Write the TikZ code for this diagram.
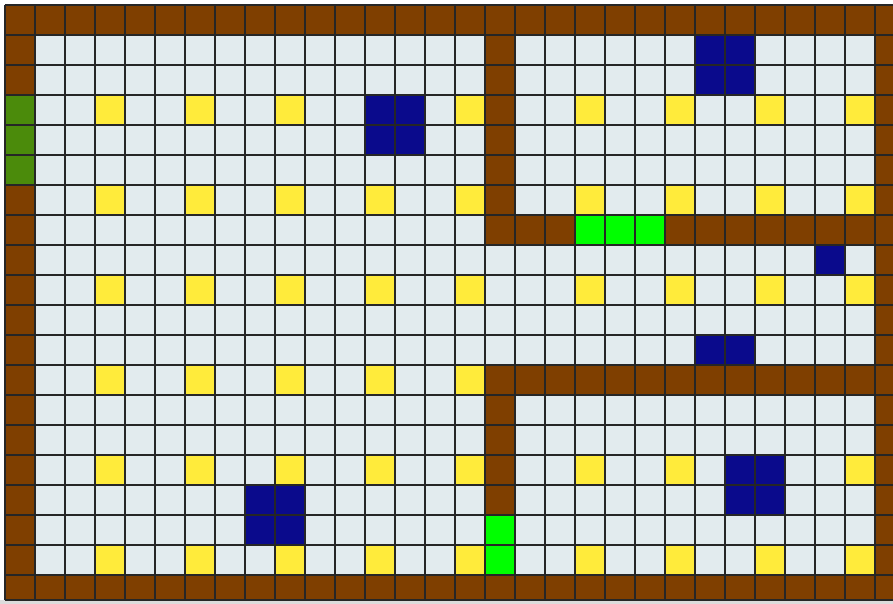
\documentclass[tikz,border=0pt]{standalone}
\usepackage{tikz}

\definecolor{wallbrown}{HTML}{7F3F00}
\definecolor{floorgrey}{HTML}{E2EBEE}
\definecolor{coinyellow}{HTML}{FFEB3B}
\definecolor{doorgreen}{HTML}{00FF00}
\definecolor{exitgreen}{HTML}{4B8B0B}
\definecolor{crateblue}{HTML}{0A0A8C}
\definecolor{stripgrey}{HTML}{DCDCDC}

\begin{document}
\begin{tikzpicture}[
    x=30pt,y=-30pt,
    wall/.style={fill=wallbrown},
    coin/.style={fill=coinyellow},
    door/.style={fill=doorgreen},
    exit/.style={fill=exitgreen},
    crate/.style={fill=crateblue},
    gridline/.style={draw=black!85,line width=1.5pt},
  ]
    \useasboundingbox (-1/6,-1/6) rectangle (29.6,19.9667);
    \clip (-1/6,-1/6) rectangle (29.6,19.9667);
    \fill[white] (-1/6,-1/6) rectangle (29.6,19.9667);
    % floor
    \fill[floorgrey] (0,0) rectangle (30,20);
    % coins
    \foreach \r in {3,6,9,12,15,18}
      \foreach \c in {3,6,9,12,15}
        \fill[coin] (\c,\r) rectangle ++(1,1);
    \foreach \r in {3,6,9,15,18}
      \foreach \c in {19,22,25,28}
        \fill[coin] (\c,\r) rectangle ++(1,1);
    % outer walls
    \fill[wall] (0,0) rectangle (30,1);
    \fill[wall] (0,19) rectangle (30,20);
    \fill[wall] (0,0) rectangle (1,3);
    \fill[wall] (0,6) rectangle (1,20);
    \fill[wall] (29,0) rectangle (30,20);
    % inner walls
    \fill[wall] (16,1) rectangle (17,7);
    \fill[wall] (16,7) rectangle (19,8);
    \fill[wall] (22,7) rectangle (29,8);
    \fill[wall] (16,12) rectangle (29,13);
    \fill[wall] (16,13) rectangle (17,17);
    % doors and exit
    \fill[door] (19,7) rectangle (22,8);
    \fill[door] (16,17) rectangle (17,19);
    \fill[exit] (0,3) rectangle (1,6);
    % crates
    \foreach \c/\r in {23/1,24/1,23/2,24/2,12/3,13/3,12/4,13/4,27/8,
                       23/11,24/11,24/15,25/15,24/16,25/16,8/16,9/16,8/17,9/17}
      \fill[crate] (\c,\r) rectangle ++(1,1);
    % grid
    \foreach \c in {0,...,30}
      \draw[gridline] (\c,0) -- (\c,20);
    \foreach \r in {0,...,20}
      \draw[gridline] (0,\r) -- (30,\r);
    % bottom strip
    \fill[stripgrey] (-1/6,19.8333) rectangle (29.6,19.9667);
    \draw[gridline] (0,19.8333) -- (29.6,19.8333);
  \end{tikzpicture}
\end{document}
